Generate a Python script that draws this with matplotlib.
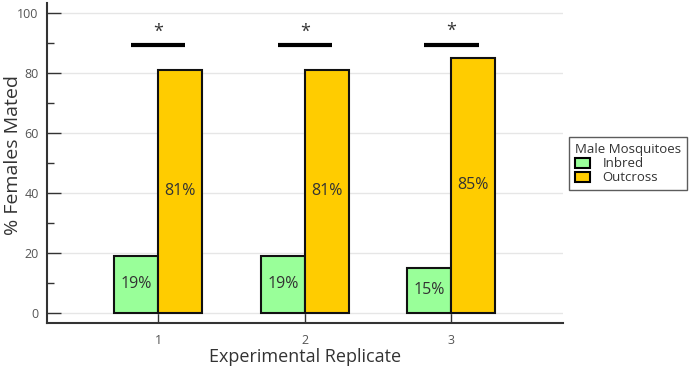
import matplotlib.pyplot as plt
import numpy as np
from matplotlib.patches import Patch

plt.rcParams['font.family'] = ['Open Sans', 'DejaVu Sans']

replicates = [1, 2, 3]
inbred = [19, 19, 15]
outcross = [81, 81, 85]
sig_heights = [89.3, 89.3, 89.5]
series_names = ["Inbred", "Outcross"]
green = "#99ff99"
orange = "#ffcc00"

fig = plt.figure(figsize=(7, 3.72), dpi=100)
ax = fig.add_axes([0.067, 0.132, 0.737, 0.86])

x = np.array(replicates)
w = 0.3
ax.bar(x - w / 2, inbred, w, color=green, edgecolor="#111111", linewidth=1.5, zorder=3)
ax.bar(x + w / 2, outcross, w, color=orange, edgecolor="#111111", linewidth=1.5, zorder=3)

for xi, v in zip(x, inbred):
    ax.text(xi - w / 2, v / 2, f"{v}%", ha="center", va="center", fontsize=11.5, color="#333333", zorder=4)
for xi, v in zip(x, outcross):
    ax.text(xi + w / 2, v / 2, f"{v}%", ha="center", va="center", fontsize=11.5, color="#333333", zorder=4)

# significance markers
for xi, h in zip(x, sig_heights):
    ax.plot([xi - 0.185, xi + 0.185], [h, h], color="black", lw=3, solid_capstyle="butt", zorder=4)
    ax.text(xi, h + 4.5, "*", ha="center", va="center", fontsize=13, color="#333333")

ax.set_xlim(0.24, 3.76)
ax.set_ylim(-3.4, 103.4)
ax.set_xticks(replicates)
ax.set_yticks(np.arange(0, 101, 20))
ax.set_yticks(np.arange(10, 100, 20), minor=True)
ax.yaxis.grid(True, color="#e6e6e6", lw=1, zorder=0)
ax.tick_params(axis="both", which="major", direction="in", length=10, width=1,
               color="#333333", labelcolor="#555555", labelsize=9, pad=6)
ax.tick_params(axis="y", which="minor", direction="in", length=5, width=1, color="#333333")
ax.tick_params(axis="x", pad=8)

for s in ["top", "right"]:
    ax.spines[s].set_visible(False)
for s in ["left", "bottom"]:
    ax.spines[s].set_linewidth(1.5)
    ax.spines[s].set_color("#333333")

fig.text(13 / 700, 0.583, "% Females Mated", rotation=90, ha="center", va="center",
         fontsize=14, color="#333333")
fig.text(305 / 700, 0.04, "Experimental Replicate", ha="center", va="center",
         fontsize=13, color="#333333")

handles = [Patch(facecolor=green, edgecolor="black", lw=1.5),
           Patch(facecolor=orange, edgecolor="black", lw=1.5)]
leg = fig.legend(handles, series_names, title="Male Mosquitoes", loc="upper left",
                 bbox_to_anchor=(0.813, 0.632), fontsize=9.5, title_fontsize=9.5,
                 frameon=True, fancybox=False, edgecolor="#333333",
                 handlelength=1.1, handleheight=0.8, handletextpad=1.0,
                 borderpad=0.45, labelspacing=0.1, borderaxespad=0)
leg.get_frame().set_linewidth(1)
leg._legend_box.align = "left"
for t in leg.get_texts():
    t.set_color("#333333")
leg.get_title().set_color("#333333")

fig.savefig("out.png", dpi=100)
